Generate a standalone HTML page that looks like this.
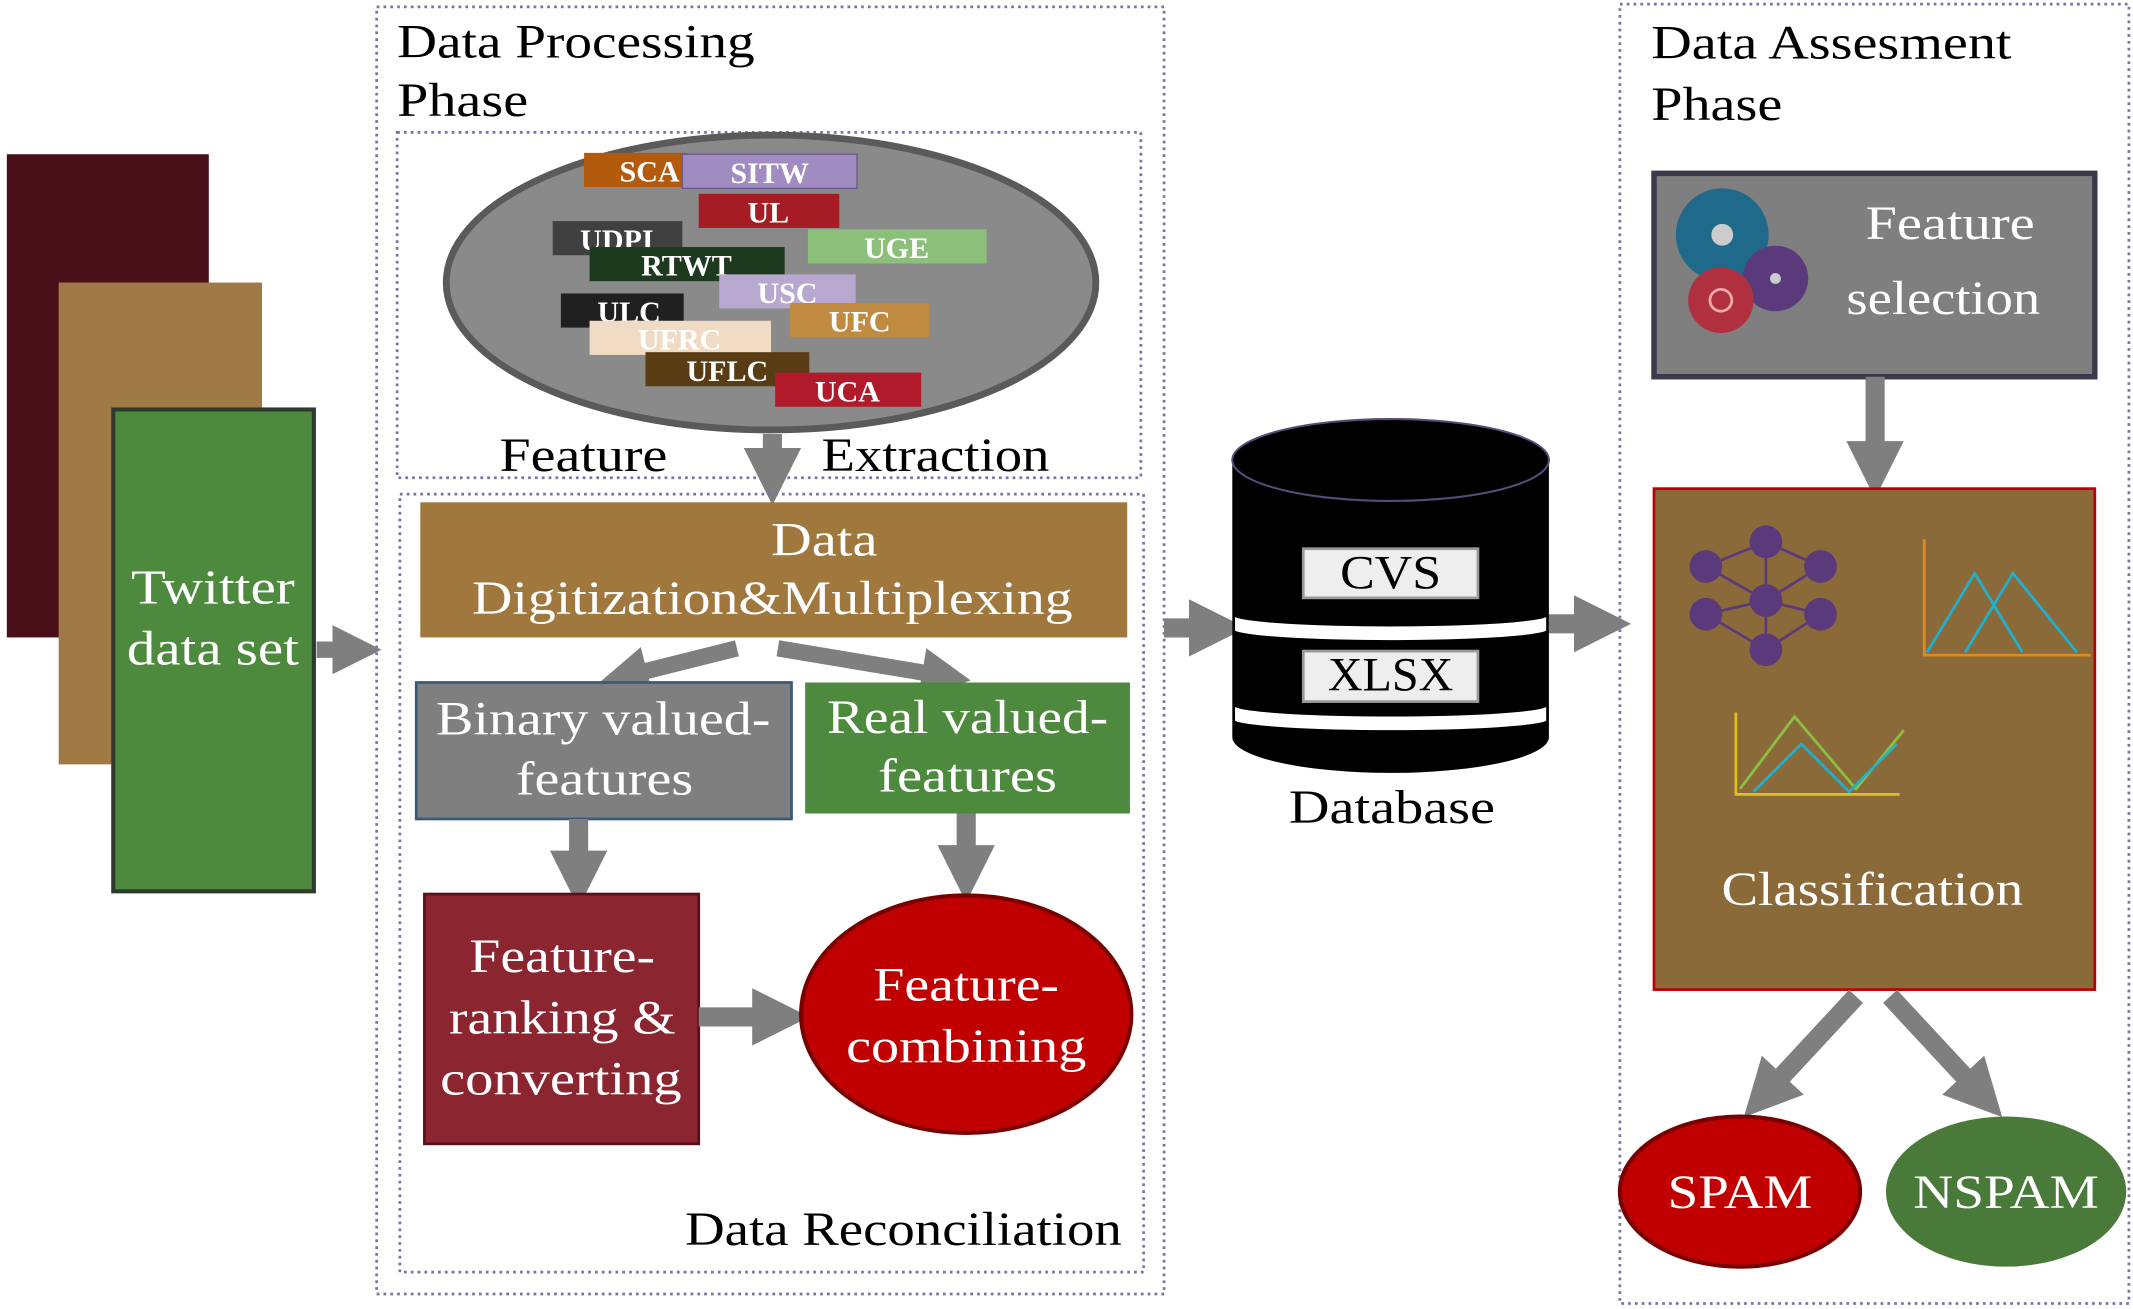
<!DOCTYPE html>
<html><head><meta charset="utf-8"><style>
html,body{margin:0;padding:0;background:#fff;}
svg{display:block;}
text{font-family:"Liberation Serif",serif;}
</style></head><body>
<svg width="2133" height="1309" viewBox="0 0 1563 959" preserveAspectRatio="none" xmlns="http://www.w3.org/2000/svg">
<defs>
<marker id="ah" markerWidth="3" markerHeight="3" refX="1.2" refY="1.5" orient="auto" markerUnits="strokeWidth"><path d="M0,0 L3,1.5 L0,3 z" fill="#7f7f7f"/></marker>
</defs>
<!-- left stack -->
<rect x="5" y="113" width="148" height="354" fill="#4a1019"/>
<rect x="43" y="207" width="149" height="353" fill="#a07a45"/>
<rect x="83" y="300" width="147" height="353" fill="#4e8a3e" stroke="#2e3a2e" stroke-width="3"/>
<text x="156" y="442" font-size="36" fill="#fff" text-anchor="middle" textLength="120" lengthAdjust="spacingAndGlyphs">Twitter</text>
<text x="156" y="487" font-size="36" fill="#fff" text-anchor="middle" textLength="126" lengthAdjust="spacingAndGlyphs">data set</text>
<line x1="232" y1="476" x2="258" y2="476" stroke="#7f7f7f" stroke-width="12" marker-end="url(#ah)"/>

<!-- processing phase -->
<rect x="276" y="5" width="577" height="943" fill="none" stroke="#8070a0" stroke-width="2" stroke-dasharray="2,3"/>
<text x="291" y="42" font-size="35" textLength="262" lengthAdjust="spacingAndGlyphs">Data Processing</text>
<text x="291" y="85" font-size="35" textLength="96" lengthAdjust="spacingAndGlyphs">Phase</text>
<rect x="291" y="97" width="545" height="253" fill="none" stroke="#8070a0" stroke-width="2" stroke-dasharray="2,3"/>
<ellipse cx="565" cy="207" rx="238" ry="108" fill="#8a8a8a" stroke="#5a5a5a" stroke-width="5"/>
<g font-size="22" font-weight="bold" fill="#fff" text-anchor="middle">
<rect x="405" y="162" width="95" height="25" fill="#404040"/><text x="452" y="183">UDPI</text>
<rect x="428" y="112" width="76" height="25" fill="#b35a0c"/><text x="476" y="133">SCA</text>
<rect x="500" y="113" width="128" height="25" fill="#a08cc0" stroke="#6a5a90"/><text x="564" y="134">SITW</text>
<rect x="512" y="142" width="103" height="25" fill="#a51c24"/><text x="563" y="163">UL</text>
<rect x="592" y="168" width="131" height="25" fill="#8cc07a"/><text x="657" y="189">UGE</text>
<rect x="432" y="181" width="143" height="25" fill="#1e3a1e"/><text x="503" y="202">RTWT</text>
<rect x="527" y="201" width="100" height="25" fill="#b8a8d0"/><text x="577" y="222">USC</text>
<rect x="411" y="215" width="90" height="25" fill="#202020"/><text x="461" y="236">ULC</text>
<rect x="579" y="222" width="102" height="25" fill="#c08a40"/><text x="630" y="243">UFC</text>
<rect x="432" y="235" width="133" height="25" fill="#f0dcc4"/><text x="498" y="256">UFRC</text>
<rect x="473" y="258" width="120" height="25" fill="#5a3c14"/><text x="533" y="279">UFLC</text>
<rect x="568" y="273" width="107" height="25" fill="#b01a2a"/><text x="621" y="294">UCA</text>
</g>
<text x="366" y="345" font-size="35" textLength="123" lengthAdjust="spacingAndGlyphs">Feature</text>
<text x="602" y="345" font-size="35" textLength="167" lengthAdjust="spacingAndGlyphs">Extraction</text>
<line x1="566" y1="318" x2="566" y2="345" stroke="#7f7f7f" stroke-width="14" marker-end="url(#ah)"/>

<rect x="293" y="362" width="545" height="570" fill="none" stroke="#8070a0" stroke-width="2" stroke-dasharray="2,3"/>
<rect x="308" y="368" width="518" height="99" fill="#a0783e"/>
<text x="604" y="407" font-size="35" fill="#fff" text-anchor="middle" textLength="78" lengthAdjust="spacingAndGlyphs">Data</text>
<text x="566" y="450" font-size="35" fill="#fff" text-anchor="middle" textLength="440" lengthAdjust="spacingAndGlyphs">Digitization&amp;Multiplexing</text>
<line x1="540" y1="475" x2="460" y2="495" stroke="#7f7f7f" stroke-width="12" marker-end="url(#ah)"/>
<line x1="570" y1="475" x2="690" y2="495" stroke="#7f7f7f" stroke-width="12" marker-end="url(#ah)"/>
<rect x="305" y="500" width="275" height="100" fill="#7f7f7f" stroke="#3a5a7a" stroke-width="2"/>
<text x="442" y="538" font-size="35" fill="#fff" text-anchor="middle" textLength="245" lengthAdjust="spacingAndGlyphs">Binary valued-</text>
<text x="443" y="582" font-size="35" fill="#fff" text-anchor="middle" textLength="130" lengthAdjust="spacingAndGlyphs">features</text>
<rect x="590" y="500" width="238" height="96" fill="#4e8a3e"/>
<text x="709" y="537" font-size="35" fill="#fff" text-anchor="middle" textLength="206" lengthAdjust="spacingAndGlyphs">Real valued-</text>
<text x="709" y="580" font-size="35" fill="#fff" text-anchor="middle" textLength="131" lengthAdjust="spacingAndGlyphs">features</text>
<line x1="424" y1="600" x2="424" y2="640" stroke="#7f7f7f" stroke-width="14" marker-end="url(#ah)"/>
<line x1="708" y1="596" x2="708" y2="636" stroke="#7f7f7f" stroke-width="14" marker-end="url(#ah)"/>
<rect x="311" y="655" width="201" height="183" fill="#8b2530" stroke="#5a1018" stroke-width="2"/>
<text x="412" y="712" font-size="35" fill="#fff" text-anchor="middle" textLength="136" lengthAdjust="spacingAndGlyphs">Feature-</text>
<text x="412" y="757" font-size="35" fill="#fff" text-anchor="middle" textLength="166" lengthAdjust="spacingAndGlyphs">ranking &amp;</text>
<text x="411" y="802" font-size="35" fill="#fff" text-anchor="middle" textLength="177" lengthAdjust="spacingAndGlyphs">converting</text>
<line x1="512" y1="745" x2="568" y2="745" stroke="#7f7f7f" stroke-width="14" marker-end="url(#ah)"/>
<ellipse cx="708" cy="743" rx="121" ry="87" fill="#c00000" stroke="#7a0000" stroke-width="3"/>
<text x="708" y="733" font-size="35" fill="#fff" text-anchor="middle" textLength="136" lengthAdjust="spacingAndGlyphs">Feature-</text>
<text x="708" y="778" font-size="35" fill="#fff" text-anchor="middle" textLength="176" lengthAdjust="spacingAndGlyphs">combining</text>
<text x="662" y="912" font-size="35" text-anchor="middle" textLength="320" lengthAdjust="spacingAndGlyphs">Data Reconciliation</text>

<!-- database -->
<line x1="853" y1="460" x2="888" y2="460" stroke="#7f7f7f" stroke-width="14" marker-end="url(#ah)"/>
<path d="M903,337 L903,540 A115,26 0 0 0 1135,540 L1135,337 Z" fill="#000"/>
<ellipse cx="1019" cy="337" rx="116" ry="30" fill="#000" stroke="#5a4a7a" stroke-width="1.5"/>
<path d="M905,452 A115,8 0 0 0 1133,452 L1133,462 A115,8 0 0 1 905,462 Z" fill="#fff"/>
<path d="M905,518 A115,8 0 0 0 1133,518 L1133,528 A115,8 0 0 1 905,528 Z" fill="#fff"/>
<rect x="955" y="402" width="128" height="36" fill="#eee" stroke="#999" stroke-width="2"/>
<text x="1019" y="431" font-size="35" text-anchor="middle" textLength="74" lengthAdjust="spacingAndGlyphs">CVS</text>
<rect x="955" y="477" width="128" height="37" fill="#eee" stroke="#999" stroke-width="2"/>
<text x="1019" y="506" font-size="35" text-anchor="middle" textLength="92" lengthAdjust="spacingAndGlyphs">XLSX</text>
<text x="1020" y="603" font-size="35" text-anchor="middle" textLength="151" lengthAdjust="spacingAndGlyphs">Database</text>
<line x1="1135" y1="457" x2="1170" y2="457" stroke="#7f7f7f" stroke-width="14" marker-end="url(#ah)"/>

<!-- assessment phase -->
<rect x="1187" y="3" width="373" height="952" fill="none" stroke="#8070a0" stroke-width="2" stroke-dasharray="2,3"/>
<text x="1210" y="43" font-size="35" textLength="264" lengthAdjust="spacingAndGlyphs">Data Assesment</text>
<text x="1210" y="88" font-size="35" textLength="96" lengthAdjust="spacingAndGlyphs">Phase</text>
<rect x="1212" y="127" width="323" height="149" fill="#7f7f7f" stroke="#3a3a4a" stroke-width="4"/>
<circle cx="1262" cy="172" r="34" fill="#1f6a8a"/><circle cx="1262" cy="172" r="8" fill="#ccc"/>
<circle cx="1301" cy="204" r="24" fill="#5a3a7a"/><circle cx="1301" cy="204" r="4" fill="#ccc"/>
<circle cx="1261" cy="220" r="24" fill="#b03040"/><circle cx="1261" cy="220" r="8" fill="none" stroke="#eaa" stroke-width="2"/>
<text x="1429" y="175" font-size="35" fill="#fff" text-anchor="middle" textLength="124" lengthAdjust="spacingAndGlyphs">Feature</text>
<text x="1424" y="230" font-size="35" fill="#fff" text-anchor="middle" textLength="142" lengthAdjust="spacingAndGlyphs">selection</text>
<line x1="1374" y1="276" x2="1374" y2="340" stroke="#7f7f7f" stroke-width="14" marker-end="url(#ah)"/>
<rect x="1212" y="358" width="323" height="367" fill="#8b6a3a" stroke="#c00000" stroke-width="2"/>
<g fill="#5a3a7a">
<circle cx="1250" cy="415" r="12"/><circle cx="1294" cy="397" r="12"/><circle cx="1334" cy="415" r="12"/>
<circle cx="1250" cy="450" r="12"/><circle cx="1294" cy="440" r="12"/><circle cx="1334" cy="450" r="12"/><circle cx="1294" cy="476" r="12"/>
</g>
<g stroke="#5a3a7a" stroke-width="2" fill="none">
<path d="M1250,415 L1294,397 L1334,415 M1250,450 L1294,440 L1334,450 M1250,415 L1294,440 M1294,440 L1334,415 M1250,450 L1294,476 L1334,450 M1294,397 L1294,476"/>
</g>
<polyline points="1410,395 1410,480 1532,480" fill="none" stroke="#e08a20" stroke-width="2"/>
<polyline points="1412,478 1447,420 1482,478" fill="none" stroke="#20b0d0" stroke-width="2"/>
<polyline points="1440,478 1475,420 1522,478" fill="none" stroke="#20b0d0" stroke-width="2"/>
<polyline points="1272,522 1272,582 1392,582" fill="none" stroke="#e0c020" stroke-width="2"/>
<polyline points="1275,578 1315,525 1360,578 1395,535" fill="none" stroke="#8cc040" stroke-width="2"/>
<polyline points="1285,580 1320,545 1355,580 1390,545" fill="none" stroke="#20b0d0" stroke-width="2"/>
<text x="1372" y="663" font-size="35" fill="#fff" text-anchor="middle" textLength="221" lengthAdjust="spacingAndGlyphs">Classification</text>
<line x1="1360" y1="730" x2="1295" y2="800" stroke="#7f7f7f" stroke-width="14" marker-end="url(#ah)"/>
<line x1="1385" y1="730" x2="1450" y2="800" stroke="#7f7f7f" stroke-width="14" marker-end="url(#ah)"/>
<ellipse cx="1275" cy="873" rx="88" ry="55" fill="#c00000" stroke="#7a0000" stroke-width="3"/>
<text x="1275" y="885" font-size="35" fill="#fff" text-anchor="middle" textLength="106" lengthAdjust="spacingAndGlyphs">SPAM</text>
<ellipse cx="1470" cy="873" rx="88" ry="55" fill="#4a7a3a"/>
<text x="1470" y="885" font-size="35" fill="#fff" text-anchor="middle" textLength="136" lengthAdjust="spacingAndGlyphs">NSPAM</text>
</svg>
</body></html>
